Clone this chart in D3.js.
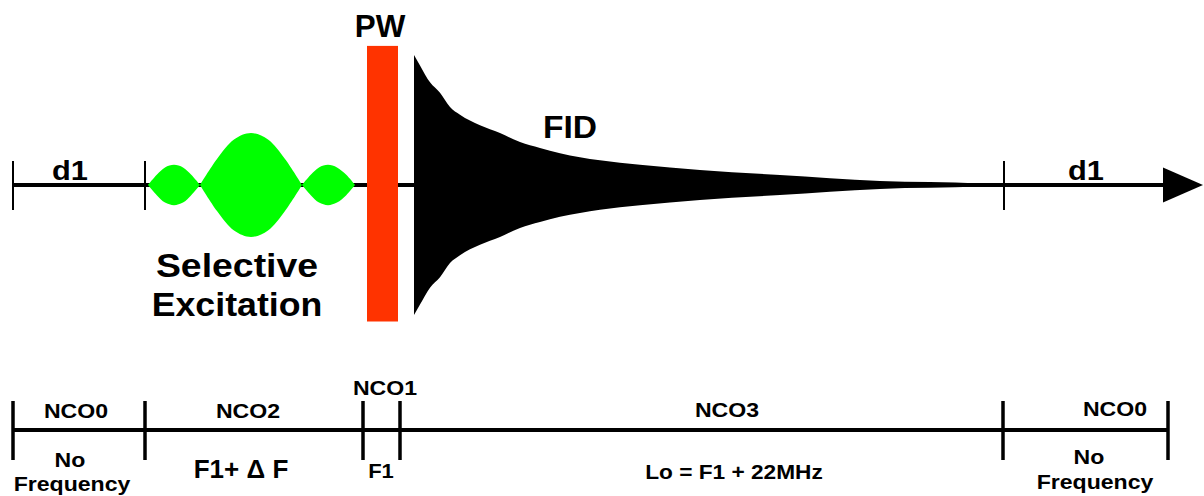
<!DOCTYPE html>
<html>
<head>
<meta charset="utf-8">
<script src="https://cdn.jsdelivr.net/npm/d3@7"></script>
<style>
  body { margin: 0; background: #fff; }
  text { font-family: "Liberation Sans", Arial, Helvetica, sans-serif; font-weight: bold; fill: #000; }
</style>
</head>
<body>
<div id="chart"></div>
<script>
// Sequence timing in arbitrary units (segment boundaries of the NCO timeline)
var segmentEdges = [0, 132, 350, 387, 990, 1155];
var ncoNames = ["NCO0", "NCO2", "NCO1", "NCO3", "NCO0"];
var freqLabels = [["No", "Frequency"], ["F1+ \u0394 F"], ["F1"], ["Lo = F1 + 22MHz"], ["No", "Frequency"]];

// ticks on the pulse timeline
var delayTicks = [0, 132, 991];

// selective excitation envelope, one array per lobe: [time, amplitude]
var lobe1 = [[135, 0], [144, 0.08], [152, 0.135], [161, 0.155], [170, 0.135], [178, 0.08], [187, 0]];
var lobe2 = [[187, 0], [204, 0.2], [221, 0.35], [238, 0.4], [255, 0.35], [272, 0.2], [289, 0]];
var lobe3 = [[289, 0], [298, 0.08], [306, 0.135], [315, 0.155], [324, 0.135], [333, 0.08], [342, 0]];

// hard pulse (PW)
var pulseStart = 354, pulseEnd = 385, pulseLow = -1.05, pulseHigh = 1.07;

// FID envelope
var fidTime = [401, 407, 417, 427, 437, 447, 467, 487, 507, 527, 547, 587, 627, 687, 767, 867, 967, 985];
var fidAmp  = [1.0, 0.92, 0.79, 0.71, 0.6, 0.54, 0.46, 0.4, 0.33, 0.285, 0.245, 0.19, 0.155, 0.115, 0.077, 0.03, 0.012, 0];

var width = 1204, height = 496;

var svg = d3.select("#chart").append("svg")
    .attr("width", width)
    .attr("height", height)
    .style("display", "block");

// scales
var x = d3.scaleLinear().domain([0, 1155]).range([13, 1168]);
var y = d3.scaleLinear().domain([-1, 1]).range([315, 55]);
var axisY = y(0);
var nco_y = 430;

function label(str, cx, base, size, sx) {
    svg.append("text")
        .attr("transform", "translate(" + cx + "," + base + ") scale(" + sx + ",1)")
        .attr("text-anchor", "middle")
        .attr("font-family", "Liberation Sans, Arial, sans-serif")
        .attr("font-weight", "bold")
        .style("font-size", size + "px")
        .text(str);
}

// ---- pulse timeline ----
svg.append("line")
    .attr("x1", x(0)).attr("x2", x(1152))
    .attr("y1", axisY).attr("y2", axisY)
    .attr("stroke", "black")
    .attr("stroke-width", 4);

// arrow head
svg.append("path")
    .attr("d", "M" + x(1150) + "," + (axisY - 17.5) + "L" + x(1190) + "," + axisY + "L" + x(1150) + "," + (axisY + 17.5) + "Z")
    .attr("fill", "black");

svg.selectAll(".dtick")
    .data(delayTicks)
    .enter().append("line")
    .attr("class", "dtick")
    .attr("x1", d => x(d)).attr("x2", d => x(d))
    .attr("y1", axisY - 24).attr("y2", axisY + 25)
    .attr("stroke", "black")
    .attr("stroke-width", 2);

// selective excitation lobes
var lobeArea = d3.area()
    .x(d => x(d[0]))
    .y0(d => y(-d[1]))
    .y1(d => y(d[1]))
    .curve(d3.curveCatmullRom);

svg.selectAll(".lobe")
    .data([lobe1, lobe2, lobe3])
    .enter().append("path")
    .attr("class", "lobe")
    .attr("d", lobeArea)
    .attr("fill", "#00ff00");

// PW
svg.append("rect")
    .attr("x", x(pulseStart))
    .attr("width", x(pulseEnd) - x(pulseStart))
    .attr("y", y(pulseHigh))
    .attr("height", y(pulseLow) - y(pulseHigh))
    .attr("fill", "#ff3300");

// FID
var fidData = fidTime.map((t, i) => [t, fidAmp[i]]);
var fidArea = d3.area()
    .x(d => x(d[0]))
    .y0(d => y(-d[1]))
    .y1(d => y(d[1]))
    .curve(d3.curveMonotoneX);

svg.append("path")
    .datum(fidData)
    .attr("d", fidArea)
    .attr("fill", "black");

// labels on top
label("d1", 70, 180, 28, 1.1);
label("d1", 1086, 180, 28, 1.1);
label("PW", 380, 37, 32, 0.98);
label("FID", 570, 138, 32, 1.05);
label("Selective", 237, 277, 34, 1.1);
label("Excitation", 237, 316, 34, 1.05);

// ---- NCO timeline ----
svg.append("line")
    .attr("x1", x(0)).attr("x2", x(1155))
    .attr("y1", nco_y).attr("y2", nco_y)
    .attr("stroke", "black")
    .attr("stroke-width", 4);

svg.selectAll(".ntick")
    .data(segmentEdges)
    .enter().append("line")
    .attr("class", "ntick")
    .attr("x1", d => x(d)).attr("x2", d => x(d))
    .attr("y1", nco_y - 29).attr("y2", nco_y + 30)
    .attr("stroke", "black")
    .attr("stroke-width", 3.5);

// NCO names (positions)
var ncoPos = [[76, 418], [248, 418], [385, 395], [727, 417], [1115, 416]];
ncoNames.forEach(function(n, i) {
    label(n, ncoPos[i][0], ncoPos[i][1], 21, 1.1);
});

// frequency settings
label(freqLabels[0][0], 70, 467, 21, 1.1);
label(freqLabels[0][1], 72, 491, 21, 1.1);
label(freqLabels[1][0], 241, 478, 26, 1.0);
label(freqLabels[2][0], 381, 478, 20, 1.1);
label(freqLabels[3][0], 734, 479, 21, 1.08);
label(freqLabels[4][0], 1089, 464, 21, 1.1);
label(freqLabels[4][1], 1095, 489, 21, 1.1);
</script>
</body>
</html>
